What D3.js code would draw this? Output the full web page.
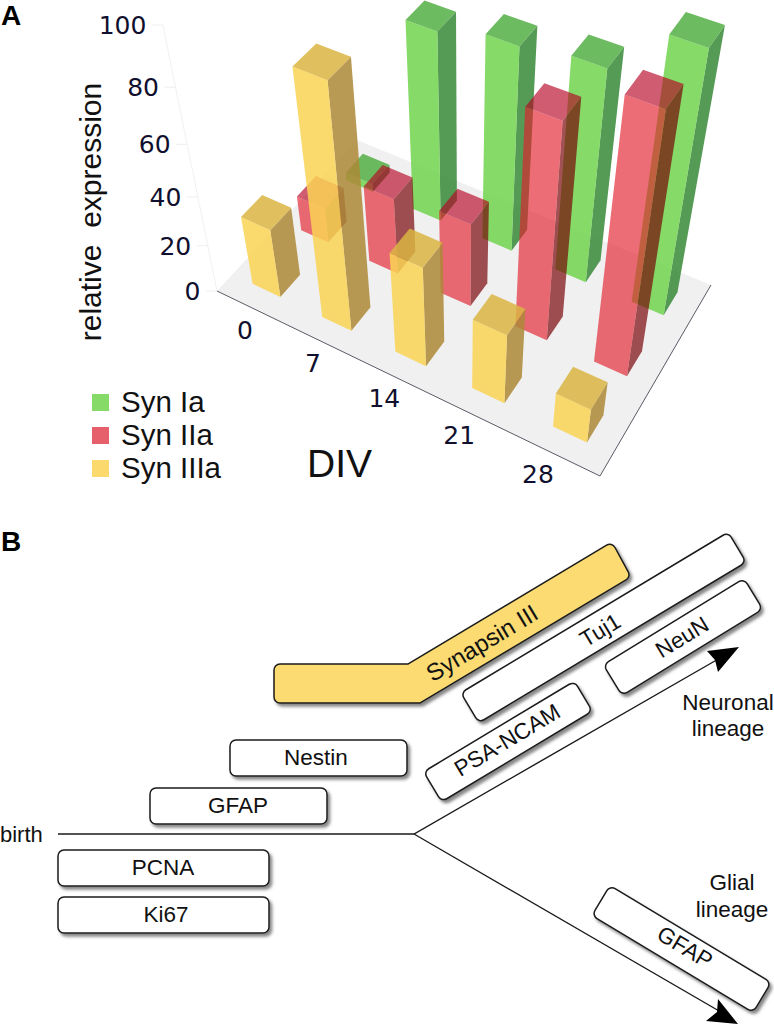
<!DOCTYPE html>
<html><head><meta charset="utf-8">
<style>html,body{margin:0;padding:0;background:#fff}svg{display:block}</style>
<script src="https://cdnjs.cloudflare.com/ajax/libs/d3/7.8.5/d3.min.js"></script>
</head><body>
<script>
// ---- data ----
const divLabels = ["0","7","14","21","28"];
const seriesNames = ["Syn Ia","Syn IIa","Syn IIIa"];
const synIa   = [3.5,75,80,83,100];
const synIIa  = [15,32,35,85,100];
const synIIIa = [29,95,42,30,15];
const yTicks  = [0,20,40,60,80,100];
const earlyMarkers = ["Ki67","PCNA","GFAP","Nestin"];
const laterMarkers = ["Synapsin III","Tuj1","PSA-NCAM","NeuN","GFAP"];

// ---- camera calibration: floor corners and vertical vanishing point ----
const W=774,H=1025;
const floor=[[217,291],[600,476],[711,285],[357,140]];
const vanish=[463,1500], axisTopY=25;
const [x0,y0]=floor[0],[x1,y1]=floor[1],[x2,y2]=floor[2],[x3,y3]=floor[3];
const dx1=x1-x2,dx2=x3-x2,sx=x0-x1+x2-x3,dy1=y1-y2,dy2=y3-y2,sy=y0-y1+y2-y3;
const den=dx1*dy2-dx2*dy1;
const g=(sx*dy2-dx2*sy)/den,h=(dx1*sy-sx*dy1)/den;
const a=x1-x0+g*x1,b=x3-x0+h*x3,c=x0,d=y1-y0+g*y1,e=y3-y0+h*y3,f=y0;
const s=(axisTopY-y0)/(vanish[1]-axisTopY);
const project=(u,v,w)=>{
  const q=g*u+h*v+1+w*s;
  return [(a*u+b*v+c+w*s*vanish[0])/q,(d*u+e*v+f+w*s*vanish[1])/q];
};

const uScale=d3.scaleBand().domain(divLabels).range([0,1]).paddingInner(0.595).paddingOuter(0.2975);
const vScale=d3.scaleBand().domain(seriesNames.slice().reverse()).range([0,1]).paddingInner(0.6).paddingOuter(0.3);
const wScale=d3.scaleLinear().domain([0,100]).range([0,1]);
const labelU=d3.scaleLinear().domain([0,4]).range([0.127,0.886]);

const svg=d3.select("body").append("svg").attr("width",W).attr("height",H)
  .style("font-family","'Liberation Sans',Arial,sans-serif");
const defs=svg.append("defs");
const flt=defs.append("filter").attr("id","shadow").attr("x","-10%").attr("y","-30%").attr("width","125%").attr("height","170%");
flt.append("feDropShadow").attr("dx",2.5).attr("dy",3).attr("stdDeviation",1.4).attr("flood-color","#555").attr("flood-opacity",0.7);

const line=d3.line();
const poly=pts=>line(pts)+"Z";

// ---- panel A ----
const A=svg.append("g");
A.append("path").attr("d",poly([[0,0],[1,0],[1,1],[0,1]].map(p=>project(p[0],p[1],0)))).attr("fill","#f0f0f0");
A.append("path").attr("d",line([project(0,0,0),project(1,0,0),project(1,1,0)])).attr("fill","none").attr("stroke","#5a5a66").attr("stroke-width",1);
A.append("path").attr("d",line([project(0,0,0),project(0,0,1)])).attr("fill","none").attr("stroke","#f1f1f3").attr("stroke-width",1);

yTicks.forEach(t=>{
  const p=project(0,0,wScale(t));
  A.append("line").attr("x1",p[0]-11).attr("x2",p[0]).attr("y1",p[1]).attr("y2",p[1]).attr("stroke","#eeeef0");
  A.append("text").attr("x",p[0]-16.5).attr("y",p[1]+9).attr("text-anchor","end")
    .style("font-family","'DejaVu Sans'").style("font-size","25px").attr("fill","#10102e").text(t);
});
divLabels.forEach((l,i)=>{
  const p=project(labelU(i),-0.1,0);
  A.append("text").attr("x",p[0]).attr("y",p[1]+9).attr("text-anchor","middle")
    .style("font-family","'DejaVu Sans'").style("font-size","25px").attr("fill","#10102e").text(l);
});

const styles={
 "Syn Ia":  {front:"rgba(112,212,78,.85)", side:"rgba(55,136,55,.85)", top:"rgba(84,175,68,.85)"},
 "Syn IIa": {front:"rgba(226,30,45,.65)",  side:"rgba(118,0,5,.68)",   top:"rgba(181,5,35,.65)"},
 "Syn IIIa":{front:"rgba(250,211,84,.85)", side:"rgba(173,136,55,.85)",top:"rgba(218,180,66,.85)"}
};
const seriesValues={"Syn Ia":synIa,"Syn IIa":synIIa,"Syn IIIa":synIIIa};
seriesNames.forEach(name=>{
  seriesValues[name].forEach((val,i)=>{
    const u0=uScale(divLabels[i]),u1=u0+uScale.bandwidth();
    const v0=vScale(name),v1=v0+vScale.bandwidth();
    const wt=wScale(val),st=styles[name];
    const gb=A.append("g");
    gb.append("path").attr("d",poly([project(u1,v0,0),project(u1,v1,0),project(u1,v1,wt),project(u1,v0,wt)])).attr("fill",st.side);
    gb.append("path").attr("d",poly([project(u0,v0,0),project(u1,v0,0),project(u1,v0,wt),project(u0,v0,wt)])).attr("fill",st.front);
    gb.append("path").attr("d",poly([project(u0,v0,wt),project(u1,v0,wt),project(u1,v1,wt),project(u0,v1,wt)])).attr("fill",st.top);
  });
});

const legendFill={"Syn Ia":"#85da68","Syn IIa":"#e6606c","Syn IIIa":"#fbd96d"};
seriesNames.forEach((n,i)=>{
  const sy0=[394,427,460][i];
  A.append("rect").attr("x",92).attr("y",sy0).attr("width",17).attr("height",17).attr("fill",legendFill[n]);
  A.append("text").attr("x",121).attr("y",sy0+18).style("font-size","29.5px").attr("fill","#111").text(n);
});
A.append("text").attr("transform","translate(101,212) rotate(-90)").attr("text-anchor","middle")
  .style("font-size","30px").attr("fill","#111").text("relative\u00A0\u00A0expression");
A.append("text").attr("x",307).attr("y",477).style("font-size","39px").attr("fill","#111").text("DIV");
svg.append("text").attr("x",1).attr("y",25).style("font-size","28px").style("font-weight","700").attr("fill","#000").text("A");
svg.append("text").attr("x",1).attr("y",551).style("font-size","28px").style("font-weight","700").attr("fill","#000").text("B");

// ---- panel B ----
const B=svg.append("g");
const ink="#1a1a1a";
B.append("path").attr("d",line([[58,834],[414,834],[727,654]])).attr("fill","none").attr("stroke",ink).attr("stroke-width",1.4);
B.append("path").attr("d",line([[414,834],[726,1015]])).attr("fill","none").attr("stroke",ink).attr("stroke-width",1.4);
B.append("path").attr("d",poly([[739,647],[707,651],[715,660],[718,672]])).attr("fill","#000");
B.append("path").attr("d",poly([[738,1024],[718,999],[717,1012],[706,1021]])).attr("fill","#000");

function box(cx,cy,w,ht,angle,label,fs){
  const gr=B.append("g").attr("filter","url(#shadow)");
  gr.append("rect").attr("x",-w/2).attr("y",-ht/2).attr("width",w).attr("height",ht).attr("rx",6).attr("ry",6)
    .attr("transform",`translate(${cx},${cy}) rotate(${angle})`)
    .attr("fill","#fff").attr("stroke",ink).attr("stroke-width",1.5);
  B.append("text").attr("text-anchor","middle").attr("transform",`translate(${label.x},${label.y}) rotate(${angle})`)
    .style("font-size",(fs||22.5)+"px").attr("fill","#111").attr("dy","0.35em").text(label.t);
}
box(163.5,915,211,36,0,{x:166,y:914.5,t:earlyMarkers[0]});
box(163.5,868,211,36,0,{x:163,y:867.5,t:earlyMarkers[1]});
box(238.5,806,177,36,0,{x:238,y:805,t:earlyMarkers[2]});
box(318.5,758,177,36,0,{x:316,y:757.5,t:earlyMarkers[3]});

// Synapsin III bent band
const band=[[274,664],[408,664],[612,542],[631,577],[420,703],[274,703]];
const bp=d3.path();
const n=band.length,r=6;
bp.moveTo((band[0][0]+band[1][0])/2,(band[0][1]+band[1][1])/2);
for(let i=1;i<=n;i++){
  const p=band[i%n],q=band[(i+1)%n];
  bp.arcTo(p[0],p[1],q[0],q[1],(i===1||i===4)?1:r);
}
bp.closePath();
B.append("path").attr("d",bp.toString()).attr("fill","#fbdb72").attr("stroke",ink).attr("stroke-width",1.5).attr("filter","url(#shadow)");
B.append("text").attr("text-anchor","middle").attr("dy","0.35em").attr("transform","translate(482,643) rotate(-31)").style("font-size","24px").attr("fill","#111").text(laterMarkers[0]);

box(603.5,627.5,312,35,-31,{x:600,y:630,t:laterMarkers[1]});
box(508,741.5,176,35,-31,{x:507,y:740,t:laterMarkers[2]});
box(683,637,165,36,-31.5,{x:682,y:637,t:laterMarkers[3]});
box(681.5,949,188,35,31,{x:685,y:947,t:laterMarkers[4]});

[["birth",0,842,"start",22],["Neuronal",728,710,"middle",22.5],["lineage",728,736,"middle",22.5],["Glial",732,890,"middle",22.5],["lineage",732,917,"middle",22.5]]
 .forEach(t=>B.append("text").attr("x",t[1]).attr("y",t[2]).attr("text-anchor",t[3]).style("font-size",t[4]+"px").attr("fill","#111").text(t[0]));
</script>
</body></html>
